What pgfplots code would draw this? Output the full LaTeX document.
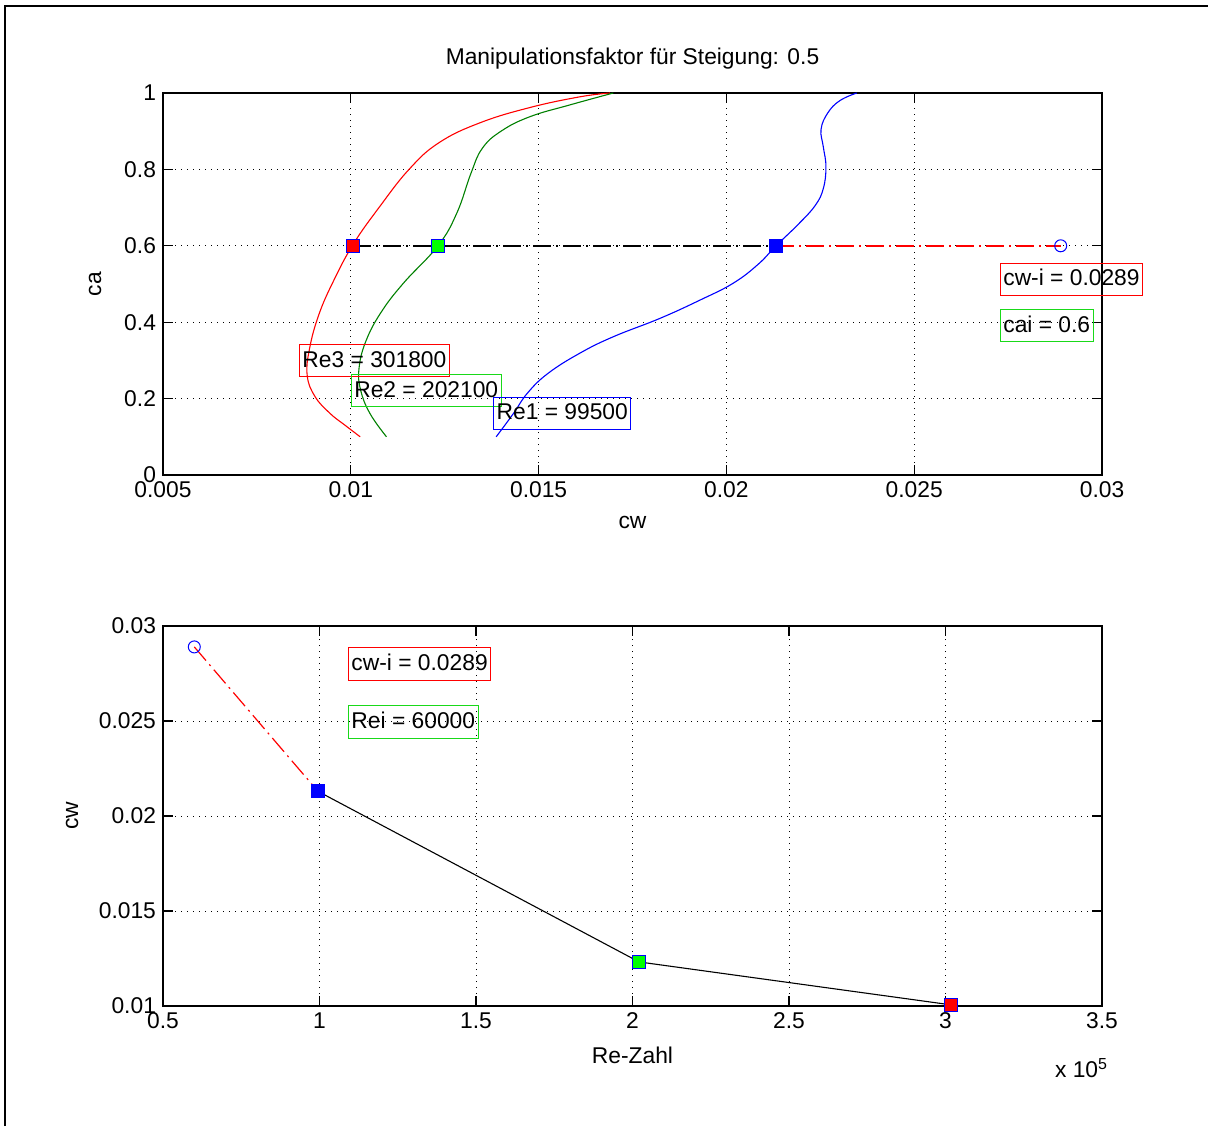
\documentclass[border=0pt]{standalone}
\usepackage{fontspec}
\setmainfont{Liberation Sans}
\usepackage{pgfplots}
\pgfplotsset{compat=1.18}
\definecolor{mred}{rgb}{1,0,0}
\definecolor{mgreen}{rgb}{0,0.5,0}
\definecolor{mlime}{rgb}{0,1,0}
\definecolor{mblue}{rgb}{0,0,1}
\definecolor{boxgreen}{rgb}{0.1,0.85,0.1}
\newcommand\mfont{\fontsize{11.4}{13.7}\selectfont}

\pgfplotsset{
  mstyle/.style={
    scale only axis, anchor=south west,
    axis line style={line width=0.6pt, black},
    tick align=inside, major tick length=5pt,
    tick style={line width=0.6pt, black},
    scaled ticks=false,
    grid=major,
    major grid style={black, line width=0.5pt, dash pattern=on 0.6pt off 2.4pt},
    tick label style={font=\mfont},
    label style={font=\mfont},
    title style={font=\mfont},
    clip=false,
  },
  dashdot/.style={dash pattern=on 9pt off 2.5pt on 1pt off 2.5pt},
}
\tikzset{
  tbox/.style={draw, line width=0.5pt, anchor=west, font=\mfont,
    inner xsep=1.5pt, inner ysep=4.1pt, text height=0.73em, text depth=0.08em},
}

\begin{document}
\begin{tikzpicture}
% outer frame (left and top edges only visible)
\draw[line width=1.4pt] (2.5pt,0pt) -- (2.5pt,560pt) -- (604pt,560pt);

% ---- upper plot: ca over cw ----
\begin{axis}[mstyle,
    at={(81.5pt,325.5pt)}, width=469.5pt, height=191pt,
    xmin=0.005, xmax=0.03, ymin=0, ymax=1,
    xtick={0.005,0.01,0.015,0.02,0.025,0.03},
    xticklabels={0.005,0.01,0.015,0.02,0.025,0.03},
    ytick={0,0.2,0.4,0.6,0.8,1},
    yticklabels={0,0.2,0.4,0.6,0.8,1},
    title={Manipulationsfaktor für Steigung: 0.5},
    title style={at={(axis description cs:0.5,1)}, anchor=base, yshift=8pt},
    xlabel={cw},
    x label style={at={(axis description cs:0.5,0)}, anchor=base, yshift=-26.5pt},
    ylabel={ca},
    y label style={at={(axis description cs:-0.066,0.5)}, anchor=base},
]
% Re3
\addplot[mred, line width=0.55pt, smooth, tension=0.7] coordinates {
  (0.01025,0.100) (0.00985,0.130) (0.00945,0.161) (0.00905,0.205)
  (0.00884,0.260) (0.00890,0.330) (0.00915,0.420) (0.00955,0.510)
  (0.01007,0.605) (0.01075,0.700) (0.01155,0.800) (0.01235,0.870)
  (0.01344,0.922) (0.01477,0.962) (0.0161,0.990) (0.0169,1.0)};
% Re2
\addplot[mgreen, line width=0.55pt, smooth, tension=0.7] coordinates {
  (0.01095,0.100) (0.01051,0.161) (0.01026,0.223) (0.01022,0.280)
  (0.01040,0.350) (0.01080,0.425) (0.0114,0.502) (0.01232,0.600)
  (0.01282,0.685) (0.01320,0.790) (0.01350,0.855) (0.01400,0.900)
  (0.01477,0.938) (0.01584,0.969) (0.01699,1.0)};
% Re1
\addplot[mblue, line width=0.55pt, smooth, tension=0.7] coordinates {
  (0.01387,0.100) (0.01433,0.161) (0.01470,0.214) (0.01525,0.266)
  (0.0161,0.319) (0.01699,0.362) (0.01823,0.410) (0.01930,0.458)
  (0.02018,0.502) (0.02085,0.552) (0.02132,0.600) (0.02190,0.655)
  (0.02236,0.705) (0.02258,0.750) (0.02265,0.807) (0.02258,0.859)
  (0.02252,0.905) (0.02270,0.948) (0.02302,0.980) (0.02347,1.0)};
% ca = 0.6 lines
\addplot[black, line width=0.8pt, dashdot] coordinates {(0.01006,0.6) (0.02132,0.6)};
\addplot[mred, line width=0.8pt, dashdot] coordinates {(0.02132,0.6) (0.0289,0.6)};
% markers
\addplot[only marks, mark=square*, mark size=3.2pt, mark options={fill=mred, draw=mblue, line width=0.5pt}] coordinates {(0.01006,0.6)};
\addplot[only marks, mark=square*, mark size=3.2pt, mark options={fill=mlime, draw=mblue, line width=0.5pt}] coordinates {(0.01232,0.6)};
\addplot[only marks, mark=square*, mark size=3.2pt, mark options={fill=mblue, draw=mblue, line width=0.5pt}] coordinates {(0.02132,0.6)};
\addplot[only marks, mark=o, mark size=3pt, mark options={draw=mblue, line width=0.5pt}] coordinates {(0.0289,0.6)};
% text boxes
\node[tbox, draw=mred] at (axis cs:0.00862,0.2997) {Re3 = 301800};
\node[tbox, draw=boxgreen] at (axis cs:0.0100,0.221) {Re2 = 202100};
\node[tbox, draw=mblue] at (axis cs:0.01379,0.161) {Re1 = 99500};
\node[tbox, draw=mred] at (axis cs:0.02728,0.512) {cw-i = 0.0289};
\node[tbox, draw=boxgreen] at (axis cs:0.02728,0.391) {cai = 0.6};
\end{axis}

% ---- lower plot: cw over Re ----
\begin{axis}[mstyle,
    at={(81.5pt,60pt)}, width=469.5pt, height=190pt,
    xmin=0.5, xmax=3.5, ymin=0.01, ymax=0.03,
    xtick={0.5,1,1.5,2,2.5,3,3.5},
    xticklabels={0.5,1,1.5,2,2.5,3,3.5},
    ytick={0.01,0.015,0.02,0.025,0.03},
    yticklabels={0.01,0.015,0.02,0.025,0.03},
    xlabel={Re-Zahl},
    x label style={at={(axis description cs:0.5,0)}, anchor=base, yshift=-28.5pt},
    ylabel={cw},
    y label style={at={(axis description cs:-0.0905,0.5)}, anchor=base},
]
\addplot[mred, line width=0.6pt, dashdot] coordinates {(0.6,0.0289) (0.995,0.0213)};
\addplot[black, line width=0.55pt] coordinates {(0.995,0.0213) (2.021,0.01232) (3.018,0.01006)};
\addplot[only marks, mark=o, mark size=3pt, mark options={draw=mblue, line width=0.5pt}] coordinates {(0.6,0.0289)};
\addplot[only marks, mark=square*, mark size=3.2pt, mark options={fill=mblue, draw=mblue, line width=0.5pt}] coordinates {(0.995,0.0213)};
\addplot[only marks, mark=square*, mark size=3.2pt, mark options={fill=mlime, draw=mblue, line width=0.5pt}] coordinates {(2.021,0.01232)};
\addplot[only marks, mark=square*, mark size=3.2pt, mark options={fill=mred, draw=mblue, line width=0.5pt}] coordinates {(3.018,0.01006)};
\node[tbox, draw=mred] at (axis cs:1.091,0.0280) {cw-i = 0.0289};
\node[tbox, draw=boxgreen] at (axis cs:1.091,0.02495) {Rei = 60000};
\node[anchor=base west, font=\mfont] at (axis description cs:0.9425,-0.187) {x 10\textsuperscript{5}};
\end{axis}

\pgfresetboundingbox
\useasboundingbox (0pt,0pt) rectangle (604pt,563pt);
\end{tikzpicture}
\end{document}
